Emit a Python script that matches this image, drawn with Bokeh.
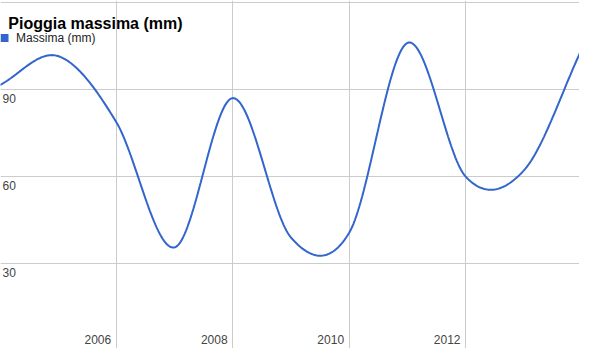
import numpy as np
from bokeh.plotting import figure
from bokeh.models import Range1d, Grid, FixedTicker, Label, BoxAnnotation
from bokeh.core.properties import value
from bokeh.embed import file_html
from bokeh.resources import INLINE

# ---- data ----
title_text = "Pioggia massima (mm)"
series_name = "Massima (mm)"
years = [2004, 2005, 2006, 2007, 2008, 2009, 2010, 2011, 2012, 2013, 2014]
massima = [91.5, 101.5, 78.8, 35.5, 87.0, 39.0, 40.5, 106.0, 60.0, 62.0, 104.0]
x_ticks = [2006, 2008, 2010, 2012]
x_tick_labels = ["2006", "2008", "2010", "2012"]
y_grid = [30, 60, 90, 120]
y_ticks = [30, 60, 90]
y_tick_labels = ["30", "60", "90"]

# ---- layout ----
W, H = 579, 348
x_lo, x_hi = 2004.013, 2013.958
y_lo, y_hi = 0.66, 120.66
FONT = "Liberation Sans"
BLUE = "#3366cc"

# smooth (cardinal / Catmull-Rom style) rendering of the series
xs = np.array(years, dtype=float)
ys = np.array(massima, dtype=float)
m = np.empty_like(ys)
m[1:-1] = (ys[2:] - ys[:-2]) / (xs[2:] - xs[:-2])
m[0] = (ys[1] - ys[0]) / (xs[1] - xs[0])
m[-1] = (ys[-1] - ys[-2]) / (xs[-1] - xs[-2])
cx, cy = [], []
n = len(xs)
for i in range(n - 1):
    h = xs[i + 1] - xs[i]
    t = np.linspace(0, 1, 41)
    if i < n - 2:
        t = t[:-1]
    h00 = 2 * t**3 - 3 * t**2 + 1
    h10 = t**3 - 2 * t**2 + t
    h01 = -2 * t**3 + 3 * t**2
    h11 = t**3 - t**2
    cx.extend(xs[i] + t * h)
    cy.extend(h00 * ys[i] + h10 * h * m[i] + h01 * ys[i + 1] + h11 * h * m[i + 1])

p = figure(width=W, height=H, x_range=Range1d(x_lo, x_hi), y_range=Range1d(y_lo, y_hi),
           x_axis_location=None, y_axis_location=None, output_backend="svg",
           toolbar_location=None, min_border=0, outline_line_color=None,
           background_fill_color="white", border_fill_color="white")
p.center = [r for r in p.center if not isinstance(r, Grid)]

p.add_layout(Grid(dimension=0, ticker=FixedTicker(ticks=x_ticks), grid_line_color="#cccccc", grid_line_width=1))
p.add_layout(Grid(dimension=1, ticker=FixedTicker(ticks=y_grid), grid_line_color="#cccccc", grid_line_width=1))

p.line(cx, cy, line_color=BLUE, line_width=2)

# tick labels (inside the plot area, as in the reference)
p.text(x=x_ticks, y=[y_lo] * len(x_ticks), text=x_tick_labels, text_align="right",
       text_baseline="bottom", x_offset=-5, y_offset=-5, text_font=value(FONT),
       text_font_size="12px", text_color="#444444")
p.text(x=[x_lo] * len(y_ticks), y=y_ticks, text=y_tick_labels, text_align="left",
       text_baseline="top", x_offset=2, y_offset=5, text_font=value(FONT),
       text_font_size="12px", text_color="#444444")

# title
p.add_layout(Label(x=7.8, y=H - 23.4, x_units="screen", y_units="screen", text=title_text,
                   text_font=FONT, text_font_size="16px", text_font_style="bold",
                   text_color="#000000", text_baseline="alphabetic", text_align="left"))
# legend
p.add_layout(BoxAnnotation(left=0, right=8, bottom=H - 41.5, top=H - 33.5,
                           left_units="screen", right_units="screen",
                           bottom_units="screen", top_units="screen",
                           fill_color=BLUE, fill_alpha=1.0, line_color=None))
p.add_layout(Label(x=15.6, y=H - 37.8, x_units="screen", y_units="screen", text=series_name,
                   text_font=FONT, text_font_size="12px", text_color="#222222",
                   text_baseline="middle", text_align="left"))

open("out.html", "w").write(file_html(p, INLINE))
